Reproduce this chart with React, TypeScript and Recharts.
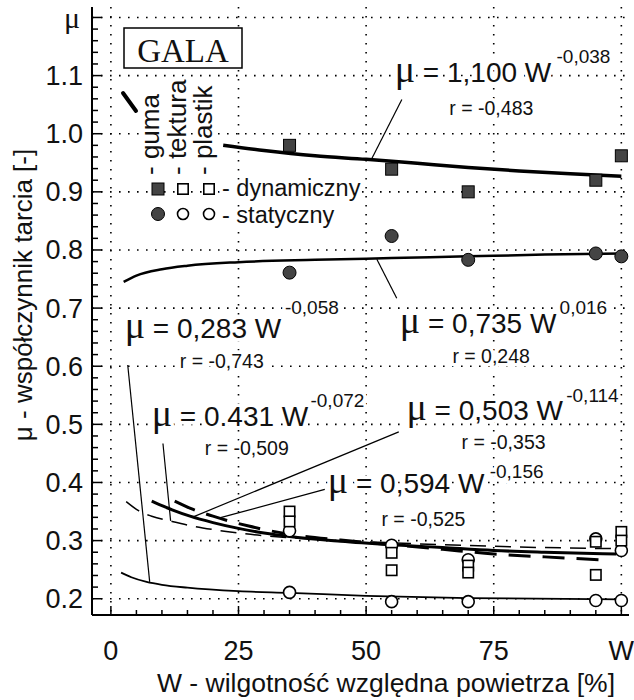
import React from 'react';
import { ComposedChart, Line, Scatter, XAxis, YAxis, CartesianGrid, ReferenceLine } from 'recharts';

const SANS = '"Liberation Sans", Arial, Helvetica, sans-serif';
const SERIF = '"Liberation Serif", "Times New Roman", serif';

// axes
const X_DOMAIN: [number, number] = [-3.7, 101.5];
const Y_DOMAIN: [number, number] = [0.172, 1.218];
const X_MAJOR = [0, 25, 50, 75, 100];
const X_MAJOR_LABELS = ['0', '25', '50', '75', 'W'];
const Y_MAJOR = [0.2, 0.3, 0.4, 0.5, 0.6, 0.7, 0.8, 0.9, 1.0, 1.1, 1.2];
const Y_MAJOR_LABELS = ['0.2', '0.3', '0.4', '0.5', '0.6', '0.7', '0.8', '0.9', '1.0', '1.1', 'μ'];
const X_MINOR = Array.from({ length: 21 }, (_, i) => i * 5);
const Y_MINOR = Array.from({ length: 51 }, (_, i) => Math.round(20 + i * 2) / 100);

// measured points (W %, μ)
const W_POINTS = [35, 55, 70, 95, 100];
const GUMA_DYN = [0.98, 0.939, 0.9, 0.92, 0.962];
const GUMA_STAT = [0.761, 0.824, 0.783, 0.794, 0.789];
const TEKTURA_DYN = [0.35, 0.279, 0.257, 0.298, 0.315];
const PLASTIK_DYN = [0.333, 0.249, 0.245, 0.241, 0.3];
const TEKTURA_STAT = [0.317, 0.292, 0.267, 0.303, 0.283];
const PLASTIK_STAT = [0.211, 0.195, 0.195, 0.197, 0.197];

// fitted curves
const FIT_GUMA_DYN_W = [22, 30, 40, 50, 60, 70, 80, 90, 100];
const FIT_GUMA_DYN = [0.98, 0.971, 0.962, 0.956, 0.949, 0.942, 0.936, 0.931, 0.927];
const FIT_GUMA_STAT_W = [2.5, 5, 10, 15, 25, 40, 55, 70, 85, 100];
const FIT_GUMA_STAT = [0.745, 0.756, 0.767, 0.773, 0.779, 0.783, 0.786, 0.789, 0.792, 0.794];
const FIT_PLASTIK_STAT_W = [2, 4, 7, 10, 15, 25, 35, 50, 70, 100];
const FIT_PLASTIK_STAT = [0.245, 0.237, 0.229, 0.224, 0.219, 0.213, 0.21, 0.205, 0.201, 0.199];
const FIT_A_W = [3, 5.5, 8, 12, 16, 20, 25, 35, 50, 65, 80, 100];
const FIT_A = [0.367, 0.351, 0.342, 0.333, 0.325, 0.319, 0.313, 0.305, 0.298, 0.293, 0.289, 0.286];
const FIT_C_W = [8, 10, 12, 15.5, 20, 25, 30, 35, 45, 55, 65, 75, 85, 99];
const FIT_C = [0.368, 0.36, 0.353, 0.342, 0.331, 0.321, 0.313, 0.307, 0.299, 0.293, 0.288, 0.283, 0.28, 0.277];
const FIT_D_W = [12.5, 16, 20, 23, 27, 30, 35, 45, 55, 65, 75, 85, 96];
const FIT_D = [0.368, 0.354, 0.342, 0.334, 0.325, 0.319, 0.311, 0.301, 0.293, 0.285, 0.277, 0.272, 0.267];

const pts = (xs: number[], ys: number[]) => xs.map((x, i) => ({ x, y: ys[i] }));

// leader lines [W1, μ1, W2, μ2]
const LEADERS = [
  [57.0, 1.059, 51.1, 0.957],
  [56.0, 0.717, 52.1, 0.784],
  [3.3, 0.602, 7.6, 0.229],
  [10.2, 0.467, 11.7, 0.334],
  [56.4, 0.487, 15.9, 0.34],
  [41.9, 0.388, 21.3, 0.339],
];

const FIT_LABELS = [
  { coef: '1,100', exp: '-0,038', r: '-0,483', at: [55.6, 1.089], expAt: [87.3, 1.121], rAt: [66.3, 1.032] },
  { coef: '0,735', exp: '0,016', r: '0,248', at: [56.6, 0.658], expAt: [87.9, 0.69], rAt: [66.9, 0.605] },
  { coef: '0,283', exp: '-0,058', r: '-0,743', at: [2.7, 0.649], expAt: [34.1, 0.69], rAt: [13.5, 0.597] },
  { coef: '0.431', exp: '-0,072', r: '-0,509', at: [8.0, 0.498], expAt: [39.1, 0.53], rAt: [18.4, 0.448] },
  { coef: '0,503', exp: '-0,114', r: '-0,353', at: [57.9, 0.508], expAt: [89.2, 0.539], rAt: [68.7, 0.458] },
  { coef: '0,594', exp: '-0,156', r: '-0,525', at: [42.5, 0.382], expAt: [74.2, 0.408], rAt: [53.0, 0.325] },
];

const PLOT = { left: 92, right: 629, top: 7, bottom: 615 };
const px = (w: number) => PLOT.left + ((w - X_DOMAIN[0]) / (X_DOMAIN[1] - X_DOMAIN[0])) * (PLOT.right - PLOT.left);
const py = (m: number) => PLOT.top + ((Y_DOMAIN[1] - m) / (Y_DOMAIN[1] - Y_DOMAIN[0])) * (PLOT.bottom - PLOT.top);

const isMajorY = (v: number) => Math.round(v * 100) % 10 === 0;

const BottomTick = (props: any) => {
  const { x, y, payload } = props;
  const idx = X_MAJOR.indexOf(payload.value);
  return (
    <g>
      <line x1={x} y1={y} x2={x} y2={y - (idx >= 0 ? 9 : 5)} stroke="#000" strokeWidth={1.5} />
      {idx >= 0 && (
        <text x={x} y={y + 45} textAnchor="middle" fontSize={27} fontFamily={SANS} fill="#111">
          {X_MAJOR_LABELS[idx]}
        </text>
      )}
    </g>
  );
};

const TopTick = (props: any) => {
  const { x, y, payload } = props;
  const major = X_MAJOR.includes(payload.value);
  return <line x1={x} y1={y} x2={x} y2={y + (major ? 9 : 5)} stroke="#000" strokeWidth={1.5} />;
};

const LeftTick = (props: any) => {
  const { x, y, payload } = props;
  const v = payload.value;
  const major = isMajorY(v);
  const idx = Y_MAJOR.findIndex((m) => Math.abs(m - v) < 1e-6);
  return (
    <g>
      <line x1={x} y1={y} x2={x + (major ? 10 : 6)} y2={y} stroke="#000" strokeWidth={1.5} />
      {idx >= 0 && (
        <text
          x={idx === 10 ? 80 : 83}
          y={y + (idx === 10 ? 11 : 9.5)}
          textAnchor="end"
          fontSize={idx === 10 ? 30 : 27}
          fontFamily={idx === 10 ? SERIF : SANS}
          fill="#111"
        >
          {Y_MAJOR_LABELS[idx]}
        </text>
      )}
    </g>
  );
};

const RightTick = (props: any) => {
  const { x, y, payload } = props;
  const major = isMajorY(payload.value);
  return <line x1={x} y1={y} x2={x - (major ? 10 : 6)} y2={y} stroke="#000" strokeWidth={1.5} />;
};

const FilledSquare = (p: any) => <rect x={p.cx - 6} y={p.cy - 6} width={12} height={12} fill="#444" stroke="#000" strokeWidth={1} />;
const FilledCircle = (p: any) => <circle cx={p.cx} cy={p.cy} r={6.5} fill="#444" stroke="#000" strokeWidth={1} />;
const OpenSquare = (p: any) => <rect x={p.cx - 5.2} y={p.cy - 5.2} width={10.4} height={10.4} fill="#fff" stroke="#000" strokeWidth={1.6} />;
const OpenCircle = (p: any) => <circle cx={p.cx} cy={p.cy} r={6} fill="#fff" stroke="#000" strokeWidth={1.6} />;

const halo = { stroke: '#fff', strokeWidth: 7, paintOrder: 'stroke' as const, strokeLinejoin: 'round' as const };

const curve = (data: { x: number; y: number }[], width: number, dash?: string) => (
  <Line
    data={data}
    dataKey="y"
    type="monotone"
    stroke="#000"
    strokeWidth={width}
    strokeDasharray={dash}
    dot={false}
    activeDot={false}
    isAnimationActive={false}
  />
);

export default function App() {
  return (
    <div style={{ position: 'absolute', left: 0, top: 0, width: 634, height: 700, background: '#fff' }}>
      <ComposedChart width={634} height={700} margin={{ top: 7, right: 5, bottom: 0, left: 0 }}>
        <CartesianGrid
          stroke="#000"
          strokeWidth={1.6}
          strokeDasharray="1.6 7.4"
          verticalValues={X_MAJOR}
          horizontalValues={Y_MAJOR}
        />
        <XAxis
          dataKey="x"
          type="number"
          domain={X_DOMAIN}
          allowDataOverflow
          ticks={X_MINOR}
          interval={0}
          tickLine={false}
          tickSize={0}
          tickMargin={0}
          tick={BottomTick}
          axisLine={{ stroke: '#000', strokeWidth: 2 }}
          height={85}
        />
        <XAxis
          xAxisId="top"
          orientation="top"
          type="number"
          domain={X_DOMAIN}
          allowDataOverflow
          ticks={X_MINOR}
          interval={0}
          tickLine={false}
          tickSize={0}
          tickMargin={0}
          tick={TopTick}
          axisLine={{ stroke: '#000', strokeWidth: 2 }}
          height={0}
        />
        <YAxis
          dataKey="y"
          type="number"
          domain={Y_DOMAIN}
          allowDataOverflow
          ticks={Y_MINOR}
          interval={0}
          tickLine={false}
          tickSize={0}
          tickMargin={0}
          tick={LeftTick}
          axisLine={{ stroke: '#000', strokeWidth: 2 }}
          width={92}
        />
        <YAxis
          yAxisId="right"
          orientation="right"
          type="number"
          domain={Y_DOMAIN}
          allowDataOverflow
          ticks={Y_MINOR}
          interval={0}
          tickLine={false}
          tickSize={0}
          tickMargin={0}
          tick={RightTick}
          axisLine={{ stroke: '#000', strokeWidth: 2 }}
          width={0}
        />

        {curve(pts(FIT_GUMA_DYN_W, FIT_GUMA_DYN), 3.5)}
        {curve(pts(FIT_GUMA_STAT_W, FIT_GUMA_STAT), 2.5)}
        {curve(pts(FIT_PLASTIK_STAT_W, FIT_PLASTIK_STAT), 1.8)}
        {curve(pts(FIT_A_W, FIT_A), 1.5, '16 9')}
        {curve(pts(FIT_C_W, FIT_C), 3)}
        {curve(pts(FIT_D_W, FIT_D), 3, '22 12')}

        {LEADERS.map((l, i) => (
          <ReferenceLine
            key={i}
            segment={[{ x: l[0], y: l[1] }, { x: l[2], y: l[3] }]}
            stroke="#000"
            strokeWidth={1.2}
            ifOverflow="visible"
          />
        ))}

        <Scatter data={pts(W_POINTS, GUMA_DYN)} dataKey="y" shape={FilledSquare} isAnimationActive={false} />
        <Scatter data={pts(W_POINTS, GUMA_STAT)} dataKey="y" shape={FilledCircle} isAnimationActive={false} />
        <Scatter data={pts(W_POINTS, TEKTURA_STAT)} dataKey="y" shape={OpenCircle} isAnimationActive={false} />
        <Scatter data={pts(W_POINTS, TEKTURA_DYN)} dataKey="y" shape={OpenSquare} isAnimationActive={false} />
        <Scatter data={pts(W_POINTS, PLASTIK_DYN)} dataKey="y" shape={OpenSquare} isAnimationActive={false} />
        <Scatter data={pts(W_POINTS, PLASTIK_STAT)} dataKey="y" shape={OpenCircle} isAnimationActive={false} />
      </ComposedChart>

      <svg width={634} height={700} style={{ position: 'absolute', left: 0, top: 0, pointerEvents: 'none' }}>
        {/* GALA box */}
        <rect x={124} y={28} width={118} height={40} fill="#fff" stroke="#000" strokeWidth={1.5} />
        <text x={183} y={62} textAnchor="middle" fontFamily={SERIF} fontSize={33} fill="#111">GALA</text>

        {/* legend */}
        <line x1={123} y1={93} x2={136} y2={111} stroke="#000" strokeWidth={4} strokeLinecap="round" />
        {['- guma', '- tektura', '- plastik'].map((t, i) => (
          <text
            key={t}
            transform={`translate(${[159, 186, 212][i]},175) rotate(-90)`}
            fontFamily={SANS}
            fontSize={26}
            fill="#111"
            {...halo}
          >
            {t}
          </text>
        ))}
        <rect x={152} y={183} width={12} height={12} fill="#444" stroke="#000" strokeWidth={1} />
        <rect x={177.8} y={183.8} width={10.4} height={10.4} fill="#fff" stroke="#000" strokeWidth={1.6} />
        <rect x={203.8} y={183.8} width={10.4} height={10.4} fill="#fff" stroke="#000" strokeWidth={1.6} />
        <text x={222} y={196} fontFamily={SANS} fontSize={23.5} fill="#111" {...halo} style={{ whiteSpace: 'pre' }}>- dynamiczny</text>
        <circle cx={158} cy={214} r={6.5} fill="#444" stroke="#000" strokeWidth={1} />
        <circle cx={183} cy={214} r={5.5} fill="#fff" stroke="#000" strokeWidth={1.6} />
        <circle cx={209} cy={214} r={5.5} fill="#fff" stroke="#000" strokeWidth={1.6} />
        <text x={222} y={223} fontFamily={SANS} fontSize={23.5} fill="#111" {...halo} style={{ whiteSpace: 'pre' }}>- statyczny</text>

        {/* fit equations */}
        {FIT_LABELS.map((f) => (
          <g key={f.coef}>
            <text x={px(f.at[0])} y={py(f.at[1])} fill="#111" {...halo} style={{ whiteSpace: 'pre' }}>
              <tspan fontFamily={SERIF} fontSize={38}>μ</tspan>
              <tspan fontFamily={SANS} fontSize={28}>{` = ${f.coef} W`}</tspan>
            </text>
            <text x={px(f.expAt[0])} y={py(f.expAt[1])} fontFamily={SANS} fontSize={19} fill="#111" {...halo}>
              {f.exp}
            </text>
            <text x={px(f.rAt[0])} y={py(f.rAt[1])} fontFamily={SANS} fontSize={19.5} fill="#111" {...halo} style={{ whiteSpace: 'pre' }}>
              {`r = ${f.r}`}
            </text>
          </g>
        ))}

        {/* axis titles */}
        <text x={386} y={692} textAnchor="middle" fontFamily={SANS} fontSize={26.5} fill="#111">
          W - wilgotność względna powietrza [%]
        </text>
        <text transform="translate(32,295) rotate(-90)" textAnchor="middle" fontFamily={SANS} fontSize={26} fill="#111">
          μ - współczynnik tarcia [-]
        </text>
      </svg>
    </div>
  );
}
